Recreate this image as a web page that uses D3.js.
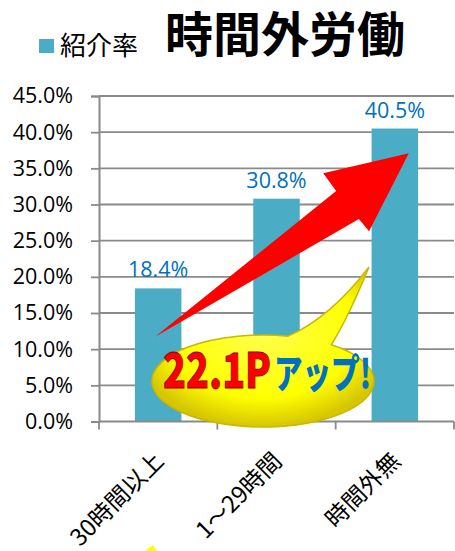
<!DOCTYPE html>
<html>
<head>
<meta charset="utf-8">
<script src="https://cdn.jsdelivr.net/npm/d3@7"></script>
<style>
  body { margin: 0; background: #fff; }
  svg { display: block; }
</style>
</head>
<body>
<div id="chart"></div>
<script>
// data
const categories = ["30時間以上", "1～29時間", "時間外無"];
const rates = [18.4, 30.8, 40.5];
const yTicks = [0, 5, 10, 15, 20, 25, 30, 35, 40, 45];
const seriesName = "紹介率";
const title = "時間外労働";
const calloutNumber = "22.1P";
const calloutWord = "アップ!";

const width = 455, height = 551;
const plotLeft = 99, plotRight = 454, plotTop = 96, plotBottom = 421.5;

const svg = d3.select("#chart").append("svg")
    .attr("width", width)
    .attr("height", height);

const x = d3.scaleBand()
    .domain(categories)
    .range([plotLeft, plotRight])
    .paddingInner(0.607)
    .paddingOuter(0.3035);

const y = d3.scaleLinear()
    .domain([0, 45])
    .range([plotBottom, plotTop]);

const axisColor = "#8a8a8a";
const barColor = "#4bacc6";
const labelBlue = "#0070c0";

// gridlines
svg.append("g")
    .selectAll("line")
    .data(yTicks.filter(d => d > 0))
    .enter()
    .append("line")
    .attr("x1", plotLeft)
    .attr("x2", plotRight)
    .attr("y1", d => y(d))
    .attr("y2", d => y(d))
    .attr("stroke", axisColor)
    .attr("stroke-width", 1.8);

// y axis
const yAxis = svg.append("g")
    .attr("transform", `translate(${plotLeft},0)`)
    .call(d3.axisLeft(y)
        .tickValues(yTicks)
        .tickSize(8)
        .tickPadding(18)
        .tickFormat(d => d.toFixed(1) + "%"));
yAxis.select(".domain").attr("stroke", axisColor).attr("stroke-width", 2);
yAxis.selectAll(".tick line").attr("stroke", axisColor).attr("stroke-width", 1.8);
yAxis.selectAll(".tick text")
    .attr("fill", "#000")
    .style("font-family", "'Open Sans', sans-serif")
    .style("font-size", "21.5px");

// bars
svg.append("g")
    .selectAll("rect")
    .data(rates)
    .enter()
    .append("rect")
    .attr("x", (d, i) => x(categories[i]))
    .attr("y", d => y(d))
    .attr("width", x.bandwidth())
    .attr("height", d => y(0) - y(d))
    .attr("fill", barColor);

// x axis baseline + ticks at category boundaries
const step = x.step();
const bounds = categories.map(c => x(c) - step * x.paddingInner() / 2).concat([plotRight]);
svg.append("line")
    .attr("x1", plotLeft).attr("x2", plotRight)
    .attr("y1", y(0)).attr("y2", y(0))
    .attr("stroke", axisColor)
    .attr("stroke-width", 2);
svg.append("g")
    .selectAll("line")
    .data(bounds)
    .enter()
    .append("line")
    .attr("x1", d => d).attr("x2", d => d)
    .attr("y1", y(0)).attr("y2", y(0) + 8)
    .attr("stroke", axisColor)
    .attr("stroke-width", 1.8);

// x labels, rotated
svg.append("g")
    .selectAll("text")
    .data(categories)
    .enter()
    .append("text")
    .attr("transform", d => `translate(${x(d) + x.bandwidth() / 2 + 7},${y(0) + 41}) rotate(-45)`)
    .attr("text-anchor", "end")
    .style("font-family", "'Noto Sans CJK JP', sans-serif")
    .style("font-size", "23.5px")
    .attr("fill", "#000")
    .text(d => d);

// value labels
svg.append("g")
    .selectAll("text")
    .data(rates)
    .enter()
    .append("text")
    .attr("x", (d, i) => x(categories[i]) + x.bandwidth() / 2)
    .attr("y", d => y(d) - 11)
    .attr("text-anchor", "middle")
    .attr("fill", labelBlue)
    .style("font-family", "'Open Sans', sans-serif")
    .style("font-size", "21.5px")
    .text(d => d.toFixed(1) + "%");

// legend + title
svg.append("rect")
    .attr("x", 39).attr("y", 39)
    .attr("width", 15).attr("height", 14)
    .attr("fill", barColor);
svg.append("text")
    .attr("x", 60).attr("y", 55)
    .style("font-family", "'Noto Sans CJK JP', sans-serif")
    .style("font-size", "26px")
    .text(seriesName);
svg.append("text")
    .attr("x", 165).attr("y", 52)
    .style("font-family", "'Noto Sans CJK JP', sans-serif")
    .style("font-size", "48px")
    .style("font-weight", 700)
    .text(title);

// ---- annotation: red arrow from bar 1 up to bar 3 ----
const tail = [x(categories[0]) + x.bandwidth() / 2 - 3, y(11.7)];
const tip = [x(categories[2]) + x.bandwidth() * 0.8, y(37.1)];
const dx = tip[0] - tail[0], dy = tip[1] - tail[1];
const len = Math.hypot(dx, dy);
const u = [dx / len, dy / len];
const n = [-u[1], u[0]];
// points as (distance back from tip, offset across axis)
const arrowPts = [[len, 0], [81, -12], [81, -34], [0, 0], [78, 40], [79, 24]];
const toXY = ([s, t]) => [tip[0] - u[0] * s + n[0] * t, tip[1] - u[1] * s + n[1] * t];
svg.append("path")
    .attr("d", d3.line()(arrowPts.map(toXY)) + "Z")
    .attr("fill", "#ff0000");

// ---- speech bubble ----
const defs = svg.append("defs");
const grad = defs.append("radialGradient")
    .attr("id", "bubbleFill")
    .attr("cx", "50%").attr("cy", "40%").attr("r", "60%");
grad.append("stop").attr("offset", "0%").attr("stop-color", "#ffff50");
grad.append("stop").attr("offset", "70%").attr("stop-color", "#ffff00");
grad.append("stop").attr("offset", "100%").attr("stop-color", "#d6c600");

const ecx = 263, ecy = 381, erx = 111, ery = 46;
const onEllipse = a => [ecx + erx * Math.cos(a), ecy + ery * Math.sin(a)];
const pL = onEllipse(-77 * Math.PI / 180);
const pR = onEllipse(-52 * Math.PI / 180);
const tailTip = [369, 267];
const bubblePath = `M${pL}` +
    `Q330,318 ${tailTip}` +
    `Q348,318 ${pR}` +
    `A${erx},${ery} 0 1 1 ${pL}Z`;
svg.append("path")
    .attr("d", bubblePath)
    .attr("fill", "url(#bubbleFill)")
    .attr("stroke", "#c9b800")
    .attr("stroke-width", 1.5);

// callout text: one text element, two styled runs
const callout = svg.append("text")
    .attr("x", 163).attr("y", 388)
    .style("font-family", "'Noto Sans CJK JP', sans-serif")
    .style("font-weight", 900);
callout.append("tspan")
    .attr("textLength", 108)
    .attr("lengthAdjust", "spacingAndGlyphs")
    .style("font-size", "48px")
    .attr("fill", "#ff0000")
    .attr("stroke", "#8b0000")
    .attr("stroke-width", 0.8)
    .text(calloutNumber);
callout.append("tspan")
    .attr("x", 274)
    .attr("textLength", 97)
    .attr("lengthAdjust", "spacingAndGlyphs")
    .style("font-size", "40px")
    .attr("fill", labelBlue)
    .text(calloutWord);

// small yellow shape cut off at the bottom edge
svg.append("path")
    .attr("d", "M145,551L153,545L157,551Z")
    .attr("fill", "#ffff00");
</script>
</body>
</html>
